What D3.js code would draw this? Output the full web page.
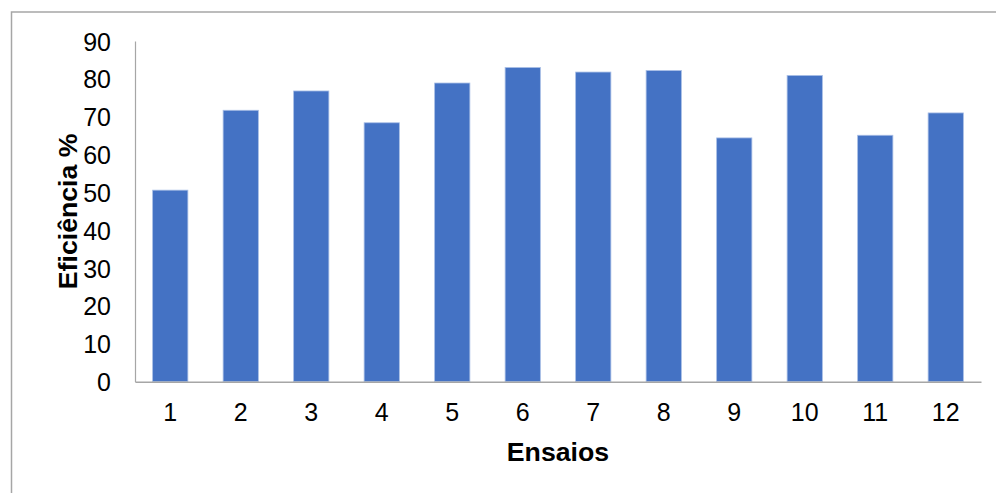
<!DOCTYPE html>
<html>
<head>
<meta charset="utf-8">
<script src="https://cdn.jsdelivr.net/npm/d3@7"></script>
<style>
  html, body { margin: 0; padding: 0; background: #fff; }
  svg { display: block; }
  text { font-family: "Liberation Sans", Arial, sans-serif; fill: #000; }
</style>
</head>
<body>
<svg id="chart" width="996" height="493"></svg>
<script>
const categories = ["1","2","3","4","5","6","7","8","9","10","11","12"];
const efficiency = [50.6, 71.7, 76.8, 68.4, 78.9, 83.0, 81.8, 82.2, 64.4, 80.9, 65.1, 71.0];
const yTicks = [0, 10, 20, 30, 40, 50, 60, 70, 80, 90];
const xTitle = "Ensaios";
const yTitle = "Eficiência %";

const svg = d3.select("#chart");
const W = 996, H = 493;
const m = { left: 135, right: 15, top: 41, bottom: 111.3 };
const innerW = W - m.left - m.right;
const innerH = H - m.top - m.bottom;

// outer frame
svg.append("rect")
  .attr("x", 11.5).attr("y", 12)
  .attr("width", W + 20).attr("height", H + 20)
  .attr("fill", "none").attr("stroke", "#a6a6a6").attr("stroke-width", 1.5);

const g = svg.append("g").attr("transform", `translate(${m.left},${m.top})`);

const x = d3.scaleBand().domain(categories).range([0, innerW]).paddingInner(0.5).paddingOuter(0.25);
const y = d3.scaleLinear().domain([0, 90]).range([innerH, 0]);

// bars
g.selectAll("rect.bar").data(categories).join("rect")
  .attr("class", "bar")
  .attr("x", d => x(d))
  .attr("width", x.bandwidth())
  .attr("y", (d, i) => y(efficiency[i]))
  .attr("height", (d, i) => y(0) - y(efficiency[i]))
  .attr("fill", "#4472c4")
  .attr("stroke", "#a9bfe6").attr("stroke-width", 0.8);

// y axis
const yAxis = g.append("g").call(d3.axisLeft(y).tickValues(yTicks).tickSize(0).tickPadding(24));
yAxis.select(".domain").attr("stroke", "#a6a6a6").attr("stroke-width", 1.2);
yAxis.selectAll("text").style("font-size", "25px").attr("dy", "0.36em");

// x axis
const xAxis = g.append("g").attr("transform", `translate(0,${innerH})`)
  .call(d3.axisBottom(x).tickSize(0).tickPadding(22));
xAxis.select(".domain").attr("stroke", "#a6a6a6").attr("stroke-width", 1.5);
xAxis.selectAll("text").style("font-size", "25px");

// axis titles
svg.append("text")
  .attr("x", m.left + innerW / 2).attr("y", 460.5)
  .attr("text-anchor", "middle")
  .style("font-size", "26.7px").style("font-weight", "bold")
  .text(xTitle);

svg.append("text")
  .attr("transform", `translate(77,${m.top + innerH / 2}) rotate(-90)`)
  .attr("text-anchor", "middle")
  .style("font-size", "26.7px").style("font-weight", "bold")
  .text(yTitle);
</script>
</body>
</html>
